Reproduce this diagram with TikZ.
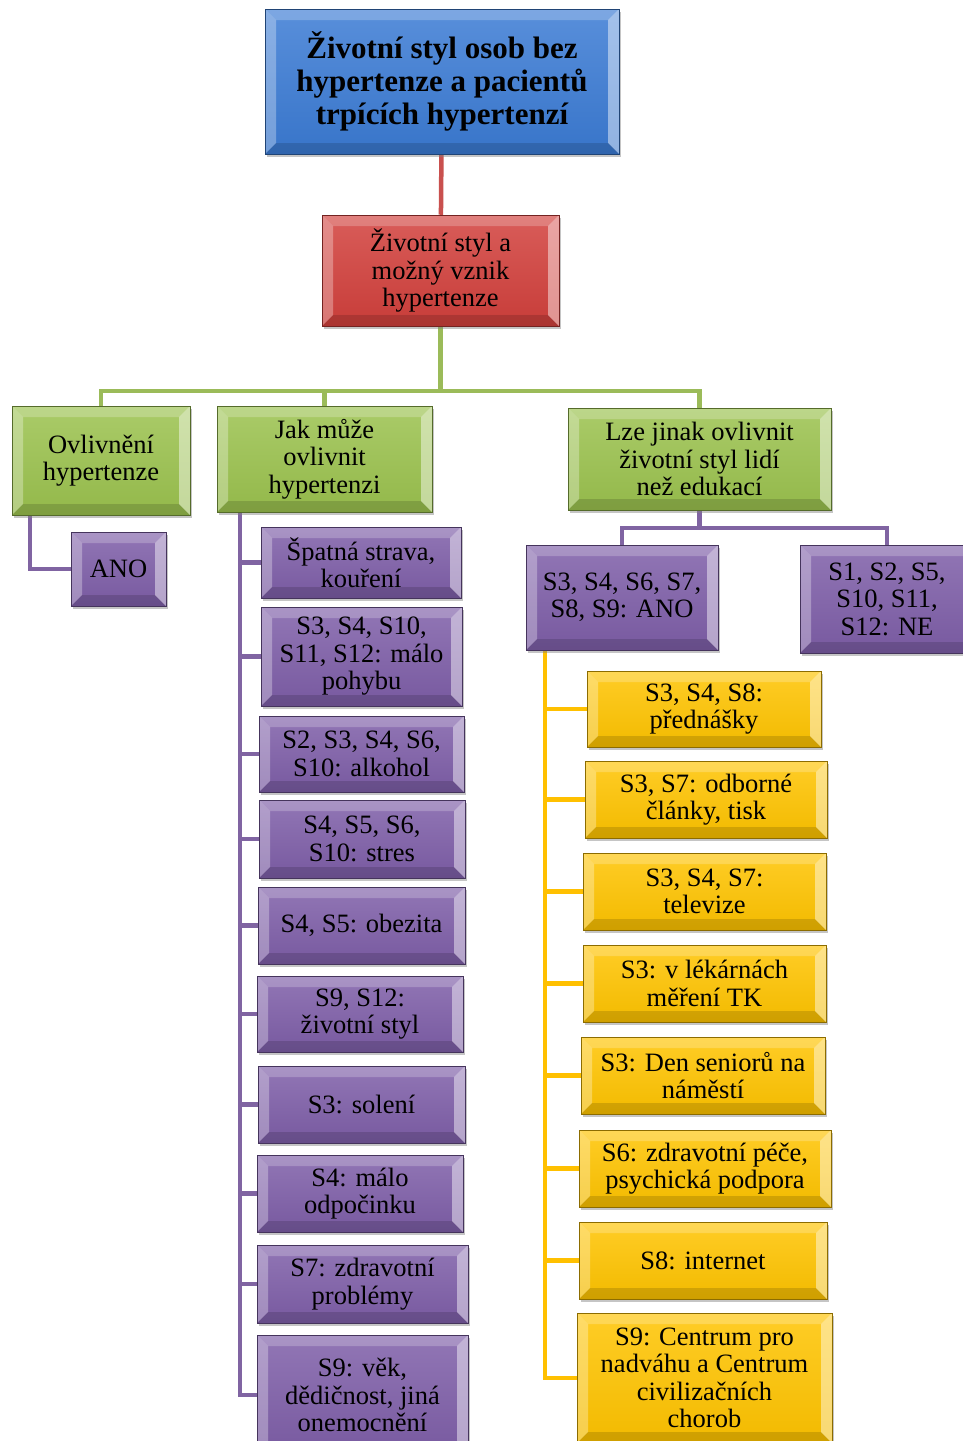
\documentclass[tikz,border=0pt]{standalone}
\usepackage{fontspec}
\setmainfont{Liberation Serif}
\usetikzlibrary{shadows}
\pgfdeclarelayer{bg}
\pgfsetlayers{bg,main}
\definecolor{cblue}{HTML}{3B7BD4}
\definecolor{cred}{HTML}{D2403C}
\definecolor{cgreen}{HTML}{9BC24E}
\definecolor{cpurple}{HTML}{7E5EA8}
\definecolor{cyellow}{HTML}{FFC400}
\definecolor{lred}{HTML}{C9504E}
\definecolor{lgreen}{HTML}{9BBB59}
\definecolor{lpurple}{HTML}{8064A2}
\definecolor{lyellow}{HTML}{FFC000}
\def\bvw{11pt}
\tikzset{
  bevel/.style={path picture={
    \fill[white,opacity=.22] (path picture bounding box.north west) -- (path picture bounding box.north east)
      -- ([shift={(-\bvw,-\bvw)}]path picture bounding box.north east) -- ([shift={(\bvw,-\bvw)}]path picture bounding box.north west) -- cycle;
    \fill[white,opacity=.30] (path picture bounding box.north west) -- ([shift={(\bvw,-\bvw)}]path picture bounding box.north west)
      -- ([shift={(\bvw,\bvw)}]path picture bounding box.south west) -- (path picture bounding box.south west) -- cycle;
    \fill[white,opacity=.45] (path picture bounding box.north east) -- ([shift={(-\bvw,-\bvw)}]path picture bounding box.north east)
      -- ([shift={(-\bvw,\bvw)}]path picture bounding box.south east) -- (path picture bounding box.south east) -- cycle;
    \fill[black,opacity=.14] (path picture bounding box.south west) -- ([shift={(\bvw,\bvw)}]path picture bounding box.south west)
      -- ([shift={(-\bvw,\bvw)}]path picture bounding box.south east) -- (path picture bounding box.south east) -- cycle;
  }},
  box/.style={draw=#1!55!black, line width=.5pt, top color=#1!85!white, bottom color=#1!95!black,
    bevel, drop shadow={opacity=.45, shadow xshift=2pt, shadow yshift=-2.5pt},
    align=center, inner sep=0pt, font=\fontsize{26.5}{27.5}\selectfont},
  conn/.style={line width=4.5pt, draw=#1},
}
\begin{document}
\begin{tikzpicture}[x=1pt,y=-1pt]
\useasboundingbox (0,0) rectangle (963,1441);
\begin{pgfonlayer}{bg}
\fill[white] (0,0) rectangle (963,1441);
\end{pgfonlayer}
\clip (0,0) rectangle (963,1441);

% level 0-1
\node[box=cblue, minimum width=354pt, minimum height=145pt, font=\bfseries\fontsize{31}{33}\selectfont] (top) at (442,81.5)
  {Životní styl osob bez\\hypertenze a pacientů\\trpících hypertenzí};
\node[box=cred, minimum width=237pt, minimum height=111pt] (red) at (440.5,270.5)
  {Životní styl a\\možný vznik\\hypertenze};

% level 2
\node[box=cgreen, minimum width=178pt, minimum height=109pt] (g1) at (101,460.5) {Ovlivnění\\hypertenze};
\node[box=cgreen, minimum width=215pt, minimum height=106pt] (g2) at (324.5,459) {Jak může\\ovlivnit\\hypertenzi};
\node[box=cgreen, minimum width=263pt, minimum height=102pt] (g3) at (699.5,459) {Lze jinak ovlivnit\\životní styl lidí\\než edukací};

% level 3
\node[box=cpurple, minimum width=95pt, minimum height=74pt] (ano) at (118.5,569) {ANO};
\node[box=cpurple, minimum width=200pt, minimum height=71pt] (p1) at (361,562.5) {Špatná strava,\\kouření};
\node[box=cpurple, minimum width=201pt, minimum height=99pt] (p2) at (361.5,656.5) {S3, S4, S10,\\S11, S12: málo\\pohybu};
\node[box=cpurple, minimum width=205pt, minimum height=76pt] (p3) at (361.5,754) {S2, S3, S4, S6,\\S10: alkohol};
\node[box=cpurple, minimum width=206pt, minimum height=78pt] (p4) at (362,839) {S4, S5, S6,\\S10: stres};
\node[box=cpurple, minimum width=207pt, minimum height=77pt] (p5) at (361.5,925.5) {S4, S5: obezita};
\node[box=cpurple, minimum width=206pt, minimum height=76pt] (p6) at (360,1014) {S9, S12:\\životní styl};
\node[box=cpurple, minimum width=207pt, minimum height=77pt] (p7) at (361.5,1104.5) {S3: solení};
\node[box=cpurple, minimum width=206pt, minimum height=77pt] (p8) at (360,1193.5) {S4: málo\\odpočinku};
\node[box=cpurple, minimum width=211pt, minimum height=78pt] (p9) at (362.5,1284) {S7: zdravotní\\problémy};
\node[box=cpurple, minimum width=211pt, minimum height=120pt] (p10) at (362.5,1395) {S9: věk,\\dědičnost, jiná\\onemocnění};

\node[box=cpurple, minimum width=192pt, minimum height=105pt] (pa) at (622,597.5) {S3, S4, S6, S7,\\S8, S9: ANO};
\node[box=cpurple, minimum width=174pt, minimum height=108pt] (pb) at (887,599) {S1, S2, S5,\\S10, S11,\\S12: NE};

% level 4
\node[box=cyellow, minimum width=234pt, minimum height=76pt] (y1) at (704,709) {S3, S4, S8:\\přednášky};
\node[box=cyellow, minimum width=242pt, minimum height=77pt] (y2) at (706,799.5) {S3, S7: odborné\\články, tisk};
\node[box=cyellow, minimum width=243pt, minimum height=77pt] (y3) at (704.5,891.5) {S3, S4, S7:\\televize};
\node[box=cyellow, minimum width=243pt, minimum height=77pt] (y4) at (704.5,983.5) {S3: v lékárnách\\měření TK};
\node[box=cyellow, minimum width=244pt, minimum height=77pt] (y5) at (703,1075.5) {S3: Den seniorů na\\náměstí};
\node[box=cyellow, minimum width=252pt, minimum height=77pt] (y6) at (705,1168.5) {S6: zdravotní péče,\\psychická podpora};
\node[box=cyellow, minimum width=248pt, minimum height=77pt] (y7) at (703,1260.5) {S8: internet};
\node[box=cyellow, minimum width=255pt, minimum height=130pt] (y8) at (704.5,1378) {S9: Centrum pro\\nadváhu a Centrum\\civilizačních\\chorob};

% connectors
\coordinate (gj) at (440.5,391);
\coordinate (ga) at (30,515);
\coordinate (lt) at (240,512);
\coordinate (pj) at (699.5,528);
\coordinate (yt) at (545,650);
\begin{pgfonlayer}{bg}
\draw[conn=lred] (top) -- (red);
\draw[conn=lgreen] (red.south) -- (gj);
\draw[conn=lgreen] (gj) -| (g1.north);
\draw[conn=lgreen] (gj) -| (g2.north);
\draw[conn=lgreen] (gj) -| (g3.north);
\draw[conn=lpurple] (ga) |- (ano.west);
\foreach \n in {p1,p2,p3,p4,p5,p6,p7,p8,p9,p10}
  \draw[conn=lpurple] (lt) |- (\n.west);
\draw[conn=lpurple] (g3.south) -- (pj);
\draw[conn=lpurple] (pj) -| (pa.north);
\draw[conn=lpurple] (pj) -| (pb.north);
\foreach \n in {y1,y2,y3,y4,y5,y6,y7,y8}
  \draw[conn=lyellow] (yt) |- (\n.west);
\end{pgfonlayer}
\end{tikzpicture}
\end{document}
